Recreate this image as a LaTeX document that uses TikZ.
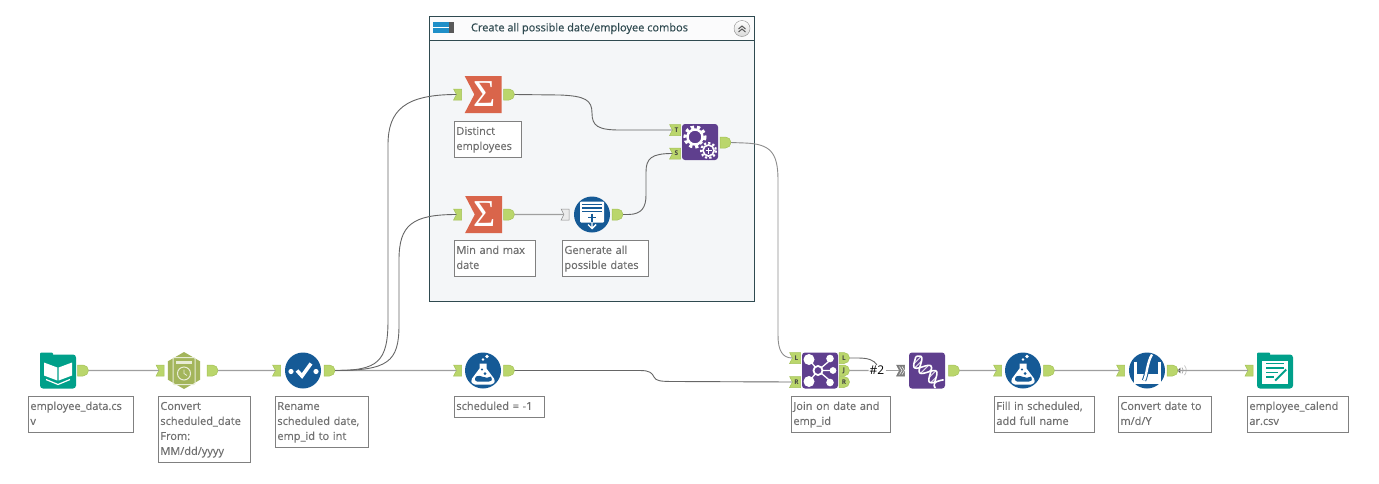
\documentclass[tikz,border=0pt]{standalone}
\usepackage{fontspec}
\setmainfont{Open Sans}
\newfontfamily\notefont[FakeBold=0.35]{Open Sans}
\newfontfamily\sigmafont{Liberation Serif}
\usetikzlibrary{arrows.meta,shapes.geometric,shapes.symbols,shapes.misc,positioning,calc}
\definecolor{portgreen}{HTML}{BAD66C}
\definecolor{portedge}{HTML}{A4C258}
\definecolor{teal}{HTML}{00A08A}
\definecolor{toolblue}{HTML}{155A96}
\definecolor{toolpurple}{HTML}{5F3F8E}
\definecolor{toolred}{HTML}{D9654B}
\definecolor{toololive}{HTML}{A3B55B}
\definecolor{notetext}{HTML}{707070}
\definecolor{panel}{HTML}{F4F6F8}
\definecolor{panelline}{HTML}{2F4A50}
\definecolor{tagblue}{HTML}{1F8FC8}

\begin{document}
\begin{tikzpicture}[
    x=1pt, y=-1pt,
    inport/.style={shape=signal, signal from=west, signal to=nowhere, signal pointer angle=125, fill=portgreen, draw=portedge, line width=0.5pt, minimum width=8pt, minimum height=11pt, inner sep=0pt, outer sep=0pt, font=\fontsize{6.5}{7}\selectfont\bfseries, text=black!75},
    outport/.style={shape=rounded rectangle, rounded rectangle west arc=none, fill=portgreen, draw=portedge, line width=0.5pt, minimum width=8pt, minimum height=11pt, inner sep=0pt, outer sep=0pt, font=\fontsize{6.5}{7}\selectfont\bfseries, text=black!75},
    note/.style={draw=black!50, fill=white, line width=0.8pt, anchor=north west, align=left, inner xsep=2pt, inner ysep=3pt, text=notetext, font=\notefont\fontsize{11}{15}\selectfont, execute at begin node=\strut, execute at end node=\strut},
    circletool/.style={circle, fill=toolblue, minimum size=36pt, inner sep=0pt, outer sep=0pt},
    squaretool/.style={rectangle, rounded corners=3pt, minimum size=36pt, inner sep=0pt, outer sep=0pt},
    sumtool/.style={shape=signal, signal from=west, signal to=nowhere, signal pointer angle=125, fill=toolred, minimum width=37pt, minimum height=37pt, inner sep=0pt, outer sep=0pt, text=white, font=\sigmafont\fontsize{38}{38}\selectfont},
    wire/.style={gray!75, line width=1.3pt},
    curve/.style={black!60, line width=0.9pt},
    bookicon/.pic={
        \fill[white] (-14,-9) -- (-0.7,-4) -- (-0.7,9) -- (-14,4) -- cycle;
        \fill[white] (14,-9) -- (0.7,-4) -- (0.7,9) -- (14,4) -- cycle;
        \draw[white, line width=1.2pt] (-12,8) -- (0,13) -- (12,8);
    },
    clockicon/.pic={
        \draw[white!75!toololive, line width=1pt, rounded corners=1pt] (-11,-13) rectangle (11,14);
        \fill[white!75!toololive] (-8,-10) rectangle (8,-7);
        \draw[white!75!toololive, line width=1pt] (0,3) circle (6.5);
        \draw[white!75!toololive, line width=0.8pt] (0,-1) -- (0,3) -- (3,5);
    },
    checkicon/.pic={
        \fill[white] (-12,1) circle (2.6) (13,1) circle (2.6);
        \draw[white, line width=3.6pt] (-6,0) -- (-1,5.5) -- (8,-7);
    },
    flaskicon/.pic={
        \fill[white] (-3.5,-7) -- (3.5,-7) -- (3.5,-2) -- (11,8) .. controls (13,12) and (10,14) .. (8,14) -- (-8,14) .. controls (-10,14) and (-13,12) .. (-11,8) -- (-3.5,-2) -- cycle;
        \fill[toolblue] (-7,6) .. controls (-3,3) and (3,10) .. (8,6) .. controls (10,10) and (8,11) .. (6,11) -- (-6,11) .. controls (-8,11) and (-9,9) .. (-7,6) -- cycle;
        \fill[toolblue] (-1,-1) circle (1.2) (2,3) circle (1.5);
        \fill[white] (0,-11) circle (1.4) (4,-14) circle (1.8);
    },
    pageicon/.pic={
        \fill[white, rounded corners=1pt] (-12,-13) rectangle (12,8);
        \draw[toolblue, line width=1.1pt] (-10,-10) -- (10,-10) (-10,-6.5) -- (10,-6.5) (-10,-3) -- (10,-3);
        \draw[toolblue, line width=1.2pt] (-4,3) -- (4,3) (0,-1) -- (0,7);
        \draw[white, line width=1.4pt] (0,8) -- (0,14) (-4,10) -- (0,14) -- (4,10);
    },
    gearsicon/.pic={
        \draw[white, line width=2.4pt] (-5,-5) circle (7.5);
        \draw[white, line width=3.2pt, dash pattern=on 3.2pt off 2.9pt] (-5,-5) circle (10);
        \fill[toolpurple] (8.5,8.5) circle (9.5);
        \draw[white, line width=1.6pt] (8.5,8.5) circle (5.5);
        \draw[white, line width=2.2pt, dash pattern=on 2.2pt off 2.1pt] (8.5,8.5) circle (7.4);
        \draw[white, line width=1.2pt] (5.5,8.5) -- (11.5,8.5) (8.5,5.5) -- (8.5,11.5);
    },
    joinicon/.pic={
        \draw[white, line width=1.3pt] (-11,-11) -- (-2,0) -- (-11,11) (11,-11) -- (-2,0) -- (11,11) (-2,0) -- (13,0);
        \fill[white] (-11,-11) circle (5.5) (-11,11) circle (5.5);
        \fill[white] (10,-12) circle (3.8) (10,12) circle (3.8) (13,0) circle (3.4);
        \fill[white] (-2,0) circle (5.5);
        \fill[toolpurple] (-2,0) circle (3.4);
    },
    dnaicon/.pic={
        \foreach \t in {0.1,0.2,0.3,0.42,0.55,0.67,0.8,0.9}
            \draw[white!80!toolpurple, line width=1.1pt] ({-13+26*\t+4.5*sin(620*\t+25)},{-12+25*\t-4.5*sin(620*\t+25)}) -- ({-13+26*\t-4.5*sin(620*\t-25)},{-12+25*\t+4.5*sin(620*\t-25)});
        \draw[white, line width=1.6pt, domain=0:1, samples=30] plot ({-13+26*\x+4.5*sin(620*\x+25)},{-12+25*\x-4.5*sin(620*\x+25)});
        \draw[white, line width=1.6pt, domain=0:1, samples=30] plot ({-13+26*\x-4.5*sin(620*\x-25)},{-12+25*\x+4.5*sin(620*\x-25)});
    },
    beakericon/.pic={
        \draw[white, line width=2.6pt] (-11.5,-9) -- (-11.5,12.5) -- (12.5,12.5) -- (12.5,-9);
        \fill[white] (-11.5,3) rectangle (12.5,12.5);
        \draw[toolblue, line width=4.4pt] (-3,10) .. controls (0,4) and (0,-8) .. (5,-16);
        \draw[white, line width=2.4pt] (-3,10) .. controls (0,4) and (0,-8) .. (5,-16);
    },
    writeicon/.pic={
        \fill[white] (-13,-11) rectangle (13,12);
        \draw[teal, line width=1.8pt] (-9,-8) -- (9,-8) (-9,-3.5) -- (9,-3.5) (-9,1) -- (3,1) (-9,5.5) -- (-1,5.5);
        \draw[teal, line width=2.4pt] (0,9) -- (11,-2);
        \draw[white, line width=0.7pt] (-1,8) -- (10,-3);
    }
]
\useasboundingbox (0,0) rectangle (1379,483);

\node[rectangle, draw=panelline, fill=panel, line width=1pt, minimum width=325pt, minimum height=285pt, anchor=north west, inner sep=0pt] (combos) at (429,16) {};
\node[rectangle, draw=panelline, fill=panel!40!white, line width=1pt, minimum width=325pt, minimum height=24pt, anchor=north west, inner sep=0pt] (combos head) at (429,16) {};
\node[text=panelline, font=\notefont\fontsize{11}{14}\selectfont] (combos title) at (579.5,28.5) {Create all possible date/employee combos};
\node[rectangle, fill=black!65, minimum width=5pt, minimum height=11pt, inner sep=0pt] (combos grip) at (451.5,27) {};
\node[rectangle, fill=tagblue, minimum width=16pt, minimum height=11pt, inner sep=0pt] (combos tag) at (441,27) {};
\draw[white, line width=0.8pt] (combos tag.west) -- (combos grip.west);
\node[circle, draw=black!45, top color=white, bottom color=black!15, minimum size=16pt, inner sep=0pt] (combos fold) at (742,28.5) {};
\draw[black!65, line width=1pt] (738.5,29) -- (742,26) -- (745.5,29) (738.5,32) -- (742,29) -- (745.5,32);

% main row
\node[squaretool, fill=teal, minimum height=34pt] (data) at (58,371.5) {};
\fill[teal, rounded corners=1pt] (data.north west) ++(0,-2) rectangle ++(13,5);
\pic at (data) {bookicon};
\node[outport] (data out) at (83,370.5) {};

\node[regular polygon, regular polygon sides=6, rotate=30, fill=toololive, minimum size=37pt, inner sep=0pt, outer sep=0pt] (convert) at (184,370.5) {};
\pic at (convert.center) {clockicon};
\node[inport] (convert in) at (161.5,370.5) {};
\node[outport] (convert out) at (212.5,370.5) {};

\node[circletool] (rename) at (303,370.5) {};
\pic at (rename) {checkicon};
\node[inport] (rename in) at (278,370.5) {};
\node[outport] (rename out) at (329.5,370.5) {};

\node[circletool] (sched) at (483,370.5) {};
\pic at (sched) {flaskicon};
\node[inport] (sched in) at (459,370.5) {};
\node[outport] (sched out) at (509,370.5) {};

\node[squaretool, fill=toolpurple] (join) at (820,370.5) {};
\pic at (join) {joinicon};
\node[inport, minimum width=11pt] (join l) at (796.5,358) {L};
\node[inport, minimum width=11pt] (join r) at (796.5,382) {R};
\node[outport, minimum width=10pt] (join lo) at (844,358) {L};
\node[outport, minimum width=10pt] (join jo) at (844,370.5) {J};
\node[outport, minimum width=10pt] (join ro) at (844,382) {R};
\node[font=\fontsize{12}{14}\selectfont, inner sep=1pt] (count) at (877,370.5) {\#2};

\node[squaretool, fill=toolpurple] (dna) at (927,370.5) {};
\pic at (dna) {dnaicon};
\node[inport, fill=black!50, draw=black!55] (dna in) at (902,370.5) {};
\draw[white, line width=0.5pt] (899.5,366.5) -- (902,370.5) -- (899.5,374.5) (902,366.5) -- (904.5,370.5) -- (902,374.5);
\node[outport] (dna out) at (954,370.5) {};

\node[circletool] (fill) at (1023,370.5) {};
\pic at (fill) {flaskicon};
\node[inport] (fill in) at (999,370.5) {};
\node[outport] (fill out) at (1049,370.5) {};

\node[circletool] (datefmt) at (1147,370.5) {};
\pic at (datefmt) {beakericon};
\node[inport] (datefmt in) at (1122,370.5) {};
\node[outport] (datefmt out) at (1172.5,370.5) {};
\draw[black!70, line width=0.7pt] (1178,370.5) -- (1180,368.5) -- (1180,372.5) -- cycle;
\draw[black!35, line width=0.7pt] (1182,367.5) arc[start angle=-45, end angle=45, radius=4.2];
\draw[black!25, line width=0.7pt] (1184.5,365.5) arc[start angle=-40, end angle=40, radius=7.5];

\node[squaretool, fill=teal, minimum height=34pt] (outfile) at (1275,371.5) {};
\fill[teal, rounded corners=1pt] (outfile.north west) ++(0,-2) rectangle ++(13,5);
\pic at (outfile) {writeicon};
\node[inport] (outfile in) at (1250.5,370.5) {};

% container
\node[sumtool] (distinct) at (488,94.5) {\hspace{-7pt}Σ};
\node[inport] (distinct in) at (459,94.5) {};
\node[outport] (distinct out) at (509,94.5) {};

\node[sumtool] (minmax) at (488.5,214.5) {\hspace{-7pt}Σ};
\node[inport] (minmax in) at (459,214.5) {};
\node[outport] (minmax out) at (509,214.5) {};

\node[circletool] (gen) at (592,214.5) {};
\pic at (gen) {pageicon};
\node[inport, fill=black!8, draw=black!45] (gen in) at (566.5,214.5) {};
\node[outport] (gen out) at (617.5,214.5) {};

\node[squaretool, fill=toolpurple] (append) at (700,142) {};
\pic at (append) {gearsicon};
\node[inport, minimum width=11pt] (append t) at (676.5,130) {T};
\node[inport, minimum width=11pt] (append s) at (676.5,153.5) {S};
\node[outport] (append out) at (725.5,142.5) {};

% wires
\draw[wire] (data out) -- (convert in);
\draw[wire] (convert out) -- (rename in);
\draw[wire] (rename out) -- (sched in);
\draw[curve] (rename out.east) .. controls (378,370.5) and (388,362) .. (388,320) -- (388,145) .. controls (388,110) and (405,94.5) .. (distinct in.west);
\draw[curve] (rename out.east) .. controls (388,370.5) and (399,362) .. (399,325) -- (399,260) .. controls (399,225) and (412,214.5) .. (minmax in.west);
\draw[curve] (sched out.east) -- (640,370.5) .. controls (650,370.5) and (652,373) .. (654,377) .. controls (656,381) and (660,381.5) .. (675,381.5) -- (join r.west);
\draw[curve] (distinct out.east) -- (560,95) .. controls (585,96) and (592,100) .. (592,113) .. controls (592,126) and (598,130) .. (620,130) -- (append t.west);
\draw[wire] (minmax out) -- (gen in);
\draw[curve] (gen out.east) -- (628,214.5) .. controls (642,214.5) and (646,207) .. (646,195) -- (646,172) .. controls (646,158) and (652,153.5) .. (append s.west);
\draw[curve, black!45] (append out.east) -- (745,143) .. controls (770,144) and (778,152) .. (778,180) -- (778,335) .. controls (778,350) and (782,358) .. (join l.west);
\draw[curve] (join lo.east) -- (858,358) .. controls (868,358) and (874,360) .. (count.north);
\draw[wire] (join jo) -- (count);
\draw[wire] (count) -- (dna in);
\draw[wire] (dna out) -- (fill in);
\draw[wire] (fill out) -- (datefmt in);
\draw[wire] (datefmt out) -- (outfile in);

% notes
\node[note, text width=101pt] (data note) at (28,396) {employee\_data.cs\\v};
\node[note, text width=88pt] (convert note) at (158,396) {Convert\\scheduled\_date\\From:\\MM/dd/yyyy};
\node[note, text width=89pt] (rename note) at (275,396) {Rename\\scheduled date,\\emp\_id to int};
\node[note, text width=86pt] (sched note) at (454,396) {scheduled = -1};
\node[note, text width=63pt] (distinct note) at (454,121) {Distinct\\employees};
\node[note, text width=77pt] (minmax note) at (454,240) {Min and max\\date};
\node[note, text width=82pt] (gen note) at (562,240) {Generate all\\possible dates};
\node[note, text width=95pt] (join note) at (791,396) {Join on date and\\emp\_id};
\node[note, text width=96pt] (fill note) at (994,396) {Fill in scheduled,\\add full name};
\node[note, text width=89pt] (datefmt note) at (1118,396) {Convert date to\\m/d/Y};
\node[note, text width=97pt] (outfile note) at (1247,396) {employee\_calend\\ar.csv};
\end{tikzpicture}
\end{document}
